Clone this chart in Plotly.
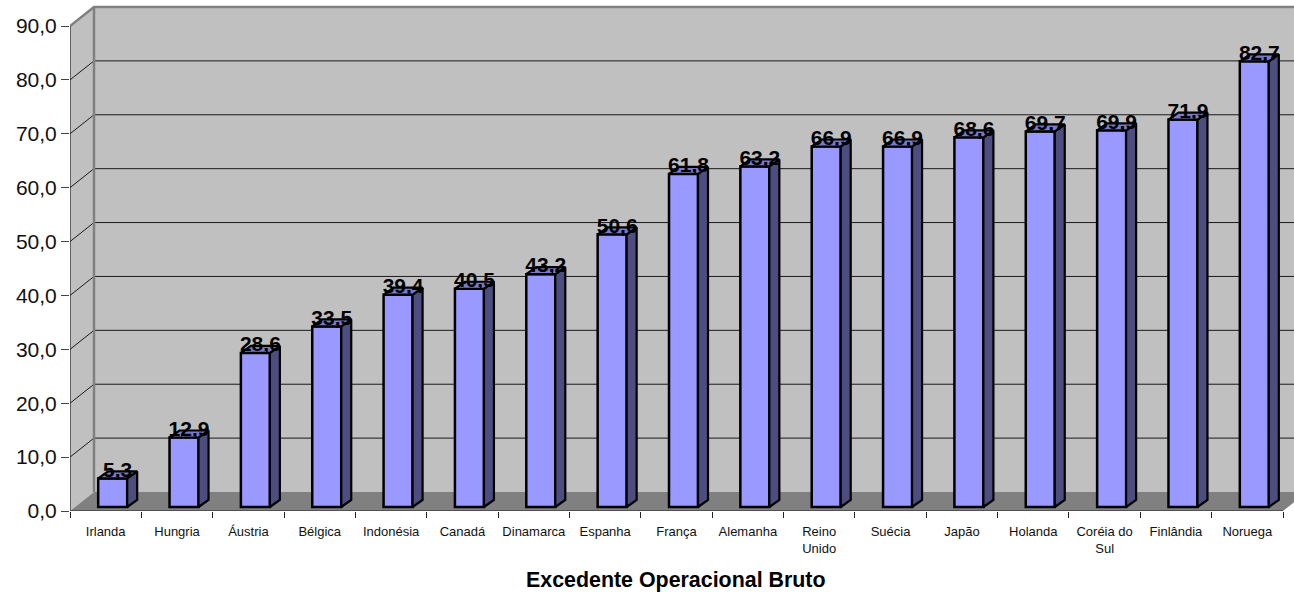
import plotly.graph_objects as go

categories = ["Irlanda", "Hungria", "Áustria", "Bélgica", "Indonésia", "Canadá", "Dinamarca", "Espanha", "França",
              "Alemanha", "Reino<br>Unido", "Suécia", "Japão", "Holanda", "Coréia do<br>Sul", "Finlândia", "Noruega"]
values = [5.3, 12.9, 28.6, 33.5, 39.4, 40.5, 43.2, 50.6, 61.8, 63.2, 66.9, 66.9, 68.6, 69.7, 69.9, 71.9, 82.7]
y_ticks = [0, 10, 20, 30, 40, 50, 60, 70, 80, 90]

PX_W, PX_H = 1294, 592
LEFT, ZERO_Y, RIGHT_FRONT = 70, 511, 1283
N = len(categories)
cat_px = (RIGHT_FRONT - LEFT) / N
val_px = (ZERO_Y - 26) / 90
x_max = (PX_W - LEFT) / cat_px
TOP_PX = 4
y_max = (ZERO_Y - TOP_PX) / val_px

wall_dx, wall_dy = 24 / cat_px, 19 / val_px
bar_w = 29 / cat_px
bar_dx, bar_dy = 10 / cat_px, 7 / val_px
shift_x, shift_y = 7 / cat_px, 4 / val_px


def path(pts, close=True):
    s = "M " + " L ".join(f"{x},{y}" for x, y in pts)
    return s + (" Z" if close else "")


def wall_shape(pts, color):
    return dict(type="path", path=path(pts), xref="x", yref="y", layer="below", fillcolor=color, line=dict(width=0))


def line_shape(pts, color, width):
    return dict(type="path", path=path(pts, close=False), xref="x", yref="y", layer="below",
                fillcolor="rgba(0,0,0,0)", line=dict(color=color, width=width))


def poly(groups, color, line, width):
    xs, ys = [], []
    for pts in groups:
        xs += [p[0] for p in pts] + [pts[0][0], None]
        ys += [p[1] for p in pts] + [pts[0][1], None]
    return go.Scatter(x=xs, y=ys, mode="lines", fill="toself", fillcolor=color,
                      line=dict(color=line, width=width), hoverinfo="skip",
                      showlegend=False, cliponaxis=False)


top_val = y_ticks[-1]
shapes = [
    wall_shape([(wall_dx, wall_dy), (x_max, wall_dy), (x_max, top_val + wall_dy), (wall_dx, top_val + wall_dy)], "#C0C0C0"),
    wall_shape([(0, 0), (wall_dx, wall_dy), (wall_dx, top_val + wall_dy), (0, top_val)], "#C0C0C0"),
    wall_shape([(0, 0), (wall_dx, wall_dy), (x_max, wall_dy), (x_max, (x_max - N) / wall_dx * wall_dy), (N, 0)], "#808080"),
]
for v in y_ticks[1:-1]:
    shapes.append(line_shape([(0, v), (wall_dx, v + wall_dy), (x_max, v + wall_dy)], "#1a1a1a", 1))
shapes.append(line_shape([(0, top_val), (wall_dx, top_val + wall_dy), (x_max, top_val + wall_dy)], "#808080", 2.5))
shapes.append(line_shape([(wall_dx, wall_dy), (wall_dx, top_val + wall_dy)], "#808080", 2.5))

fig = go.Figure()
# axis lines
fig.add_trace(go.Scatter(x=[0, 0, None, 0, N], y=[0, top_val, None, 0, 0], mode="lines",
                         line=dict(color="#222222", width=1.2), hoverinfo="skip", showlegend=False, cliponaxis=False))
# bars: front faces
bar_x = [i + 0.5 + shift_x for i in range(N)]
fig.add_trace(go.Bar(x=bar_x, y=values, base=shift_y, width=bar_w,
                     marker=dict(color="#9999FF", line=dict(color="black", width=2.5)),
                     hoverinfo="skip", showlegend=False))
# bars: sides and tops
sides, tops = [], []
for cx, v in zip(bar_x, values):
    l, r, b, t = cx - bar_w / 2, cx + bar_w / 2, shift_y, shift_y + v
    sides.append([(r, b), (r + bar_dx, b + bar_dy), (r + bar_dx, t + bar_dy), (r, t)])
    tops.append([(l, t), (r, t), (r + bar_dx, t + bar_dy), (l + bar_dx, t + bar_dy)])
fig.add_trace(poly(sides, "#4D4D80", "black", 2.2))
fig.add_trace(poly(tops, "#7A7ACC", "black", 2.2))

# data labels
fig.add_trace(go.Scatter(x=[c + bar_dx / 2 for c in bar_x], y=[shift_y + v + bar_dy for v in values], mode="text",
                         text=[f"{v:.1f}".replace(".", ",") for v in values],
                         textfont=dict(family="Liberation Sans", size=21, color="black", weight="bold"),
                         textposition="middle center", hoverinfo="skip", showlegend=False, cliponaxis=False))
# invisible carrier for category-label axis
fig.add_trace(go.Scatter(x=[i + 0.5 for i in range(N)], y=values, xaxis="x2", mode="none", hoverinfo="skip", showlegend=False))

fig.update_layout(
    width=PX_W, height=PX_H, autosize=False,
    margin=dict(l=LEFT, r=0, t=TOP_PX, b=PX_H - ZERO_Y),
    paper_bgcolor="white", plot_bgcolor="white",
    barmode="overlay", shapes=shapes,
    font=dict(family="Liberation Sans", color="black"),
    xaxis=dict(range=[0, x_max], tickmode="array", tickvals=list(range(N + 1)), ticktext=[""] * (N + 1),
               ticks="outside", ticklen=6, tickcolor="#222222", showgrid=False, zeroline=False, showline=False),
    xaxis2=dict(range=[0, x_max], overlaying="x", side="bottom", anchor="y", tickmode="array",
                tickvals=[i + 0.5 for i in range(N)], ticktext=categories,
                ticks="outside", ticklen=8, tickcolor="rgba(0,0,0,0)", tickangle=0, tickfont=dict(size=13, color="#111111"),
                showgrid=False, zeroline=False, showline=False),
    yaxis=dict(range=[0, y_max], tickmode="array", tickvals=y_ticks,
               ticktext=[f"{v:.1f}".replace(".", ",") for v in y_ticks],
               ticks="outside", ticklen=8, tickcolor="#444444", tickfont=dict(size=21, color="#111111"),
               showgrid=False, zeroline=False, showline=False),
    annotations=[dict(text="<b>Excedente Operacional Bruto</b>", xref="paper", yref="paper",
                      x=(676 - LEFT) / (PX_W - LEFT), y=(ZERO_Y - 580) / (ZERO_Y - TOP_PX), xanchor="center", yanchor="middle",
                      showarrow=False, font=dict(size=21.4, color="black"))],
)
fig.write_html("out.html", config=dict(displayModeBar=False),
               post_script="document.body.style.margin='0';document.documentElement.style.overflow='hidden';")
